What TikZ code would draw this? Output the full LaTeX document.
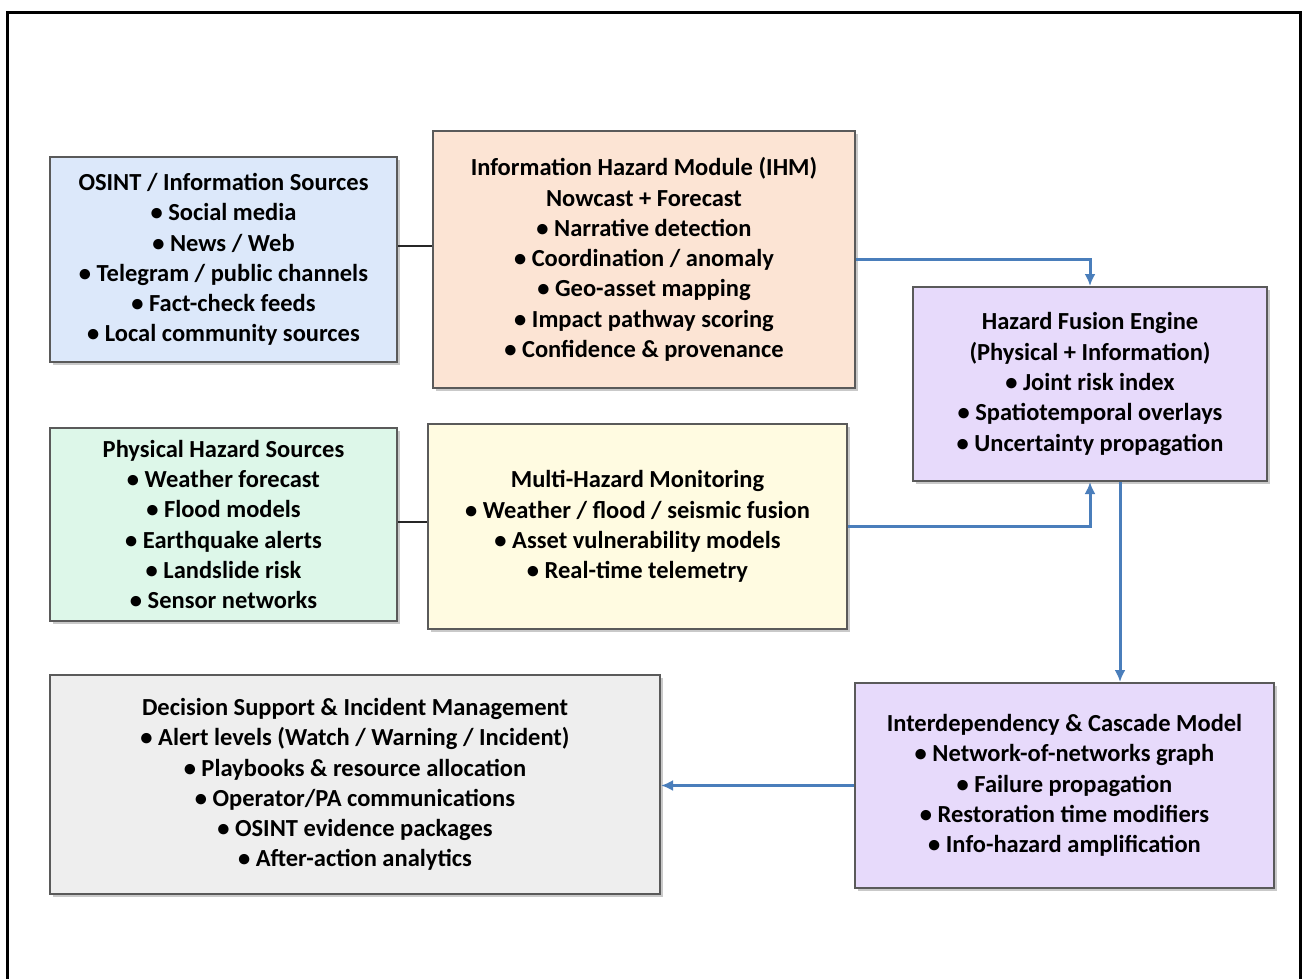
\documentclass[tikz,border=0pt]{standalone}
\usepackage{fontspec}
\setmainfont{Carlito}
\usetikzlibrary{shadows,arrows.meta,calc}
\definecolor{cblue}{HTML}{DCE8FA}
\definecolor{cpeach}{HTML}{FCE4D4}
\definecolor{clav}{HTML}{E7DAFB}
\definecolor{cmint}{HTML}{DDF7E9}
\definecolor{cyel}{HTML}{FFFBE1}
\definecolor{cgray}{HTML}{EEEEEE}
\definecolor{cline}{HTML}{4A7EBB}
\definecolor{cborder}{HTML}{5A5A5A}
\begin{document}
\begin{tikzpicture}[x=1pt,y=-1pt,
  box/.style={draw=cborder, line width=2pt, align=center, inner sep=0pt,
    font=\fontsize{24.5}{30.3}\selectfont\bfseries,
    drop shadow={shadow xshift=2.5pt, shadow yshift=-2.5pt, opacity=0.35, fill=black!60}},
  blink/.style={draw=black!85, line width=2.6pt},
  flow/.style={draw=cline, line width=3pt, -{Latex[length=12pt,width=11pt]}}]
\useasboundingbox (0,0) rectangle (1302,978);
\fill[white] (0,0) rectangle (1302,978);
\draw[line width=3pt, black] (7,980) -- (7,12) -- (1300,12) -- (1300,980);

\node[box, fill=cblue, minimum width=347pt, minimum height=205pt] (osint) at (223.5,259.5)
 {OSINT / Information Sources\\ • Social media\\ • News / Web\\ • Telegram / public channels\\ • Fact-check feeds\\ • Local community sources};
\node[box, fill=cpeach, minimum width=422pt, minimum height=257pt] (ihm) at (644,259.5)
 {Information Hazard Module (IHM)\\ Nowcast + Forecast\\ • Narrative detection\\ • Coordination / anomaly\\ • Geo-asset mapping\\ • Impact pathway scoring\\ • Confidence \& provenance};
\node[box, fill=clav, minimum width=354pt, minimum height=194pt] (fusion) at (1090,384)
 {Hazard Fusion Engine\\ (Physical + Information)\\ • Joint risk index\\ • Spatiotemporal overlays\\ • Uncertainty propagation};
\node[box, fill=cmint, minimum width=347pt, minimum height=193pt] (phys) at (223.5,524.5)
 {Physical Hazard Sources\\ • Weather forecast\\ • Flood models\\ • Earthquake alerts\\ • Landslide risk\\ • Sensor networks};
\node[box, fill=cyel, minimum width=419pt, minimum height=205pt] (multi) at (637.5,526.5)
 {Multi-Hazard Monitoring\\ • Weather / flood / seismic fusion\\ • Asset vulnerability models\\ • Real-time telemetry};
\node[box, fill=cgray, minimum width=610pt, minimum height=219pt] (dec) at (355,784.5)
 {Decision Support \& Incident Management\\ • Alert levels (Watch / Warning / Incident)\\ • Playbooks \& resource allocation\\ • Operator/PA communications\\ • OSINT evidence packages\\ • After-action analytics};
\node[box, fill=clav, minimum width=419pt, minimum height=205pt] (inter) at (1064.5,785.5)
 {Interdependency \& Cascade Model\\ • Network-of-networks graph\\ • Failure propagation\\ • Restoration time modifiers\\ • Info-hazard amplification};

\draw[blink] (osint.east |- 0,246) -- (ihm.west |- 0,246);
\draw[blink] (phys.east |- 0,522) -- (multi.west |- 0,522);

\draw[flow] (ihm.east) -| (fusion.north);
\draw[flow] (multi.east) -| (fusion.south);
\coordinate (fs) at ($(fusion.south)+(30,0)$);
\draw[flow] (fs) -- (fs |- inter.north);
\draw[flow] (inter.west) -- (dec.east |- inter.west);
\end{tikzpicture}
\end{document}
